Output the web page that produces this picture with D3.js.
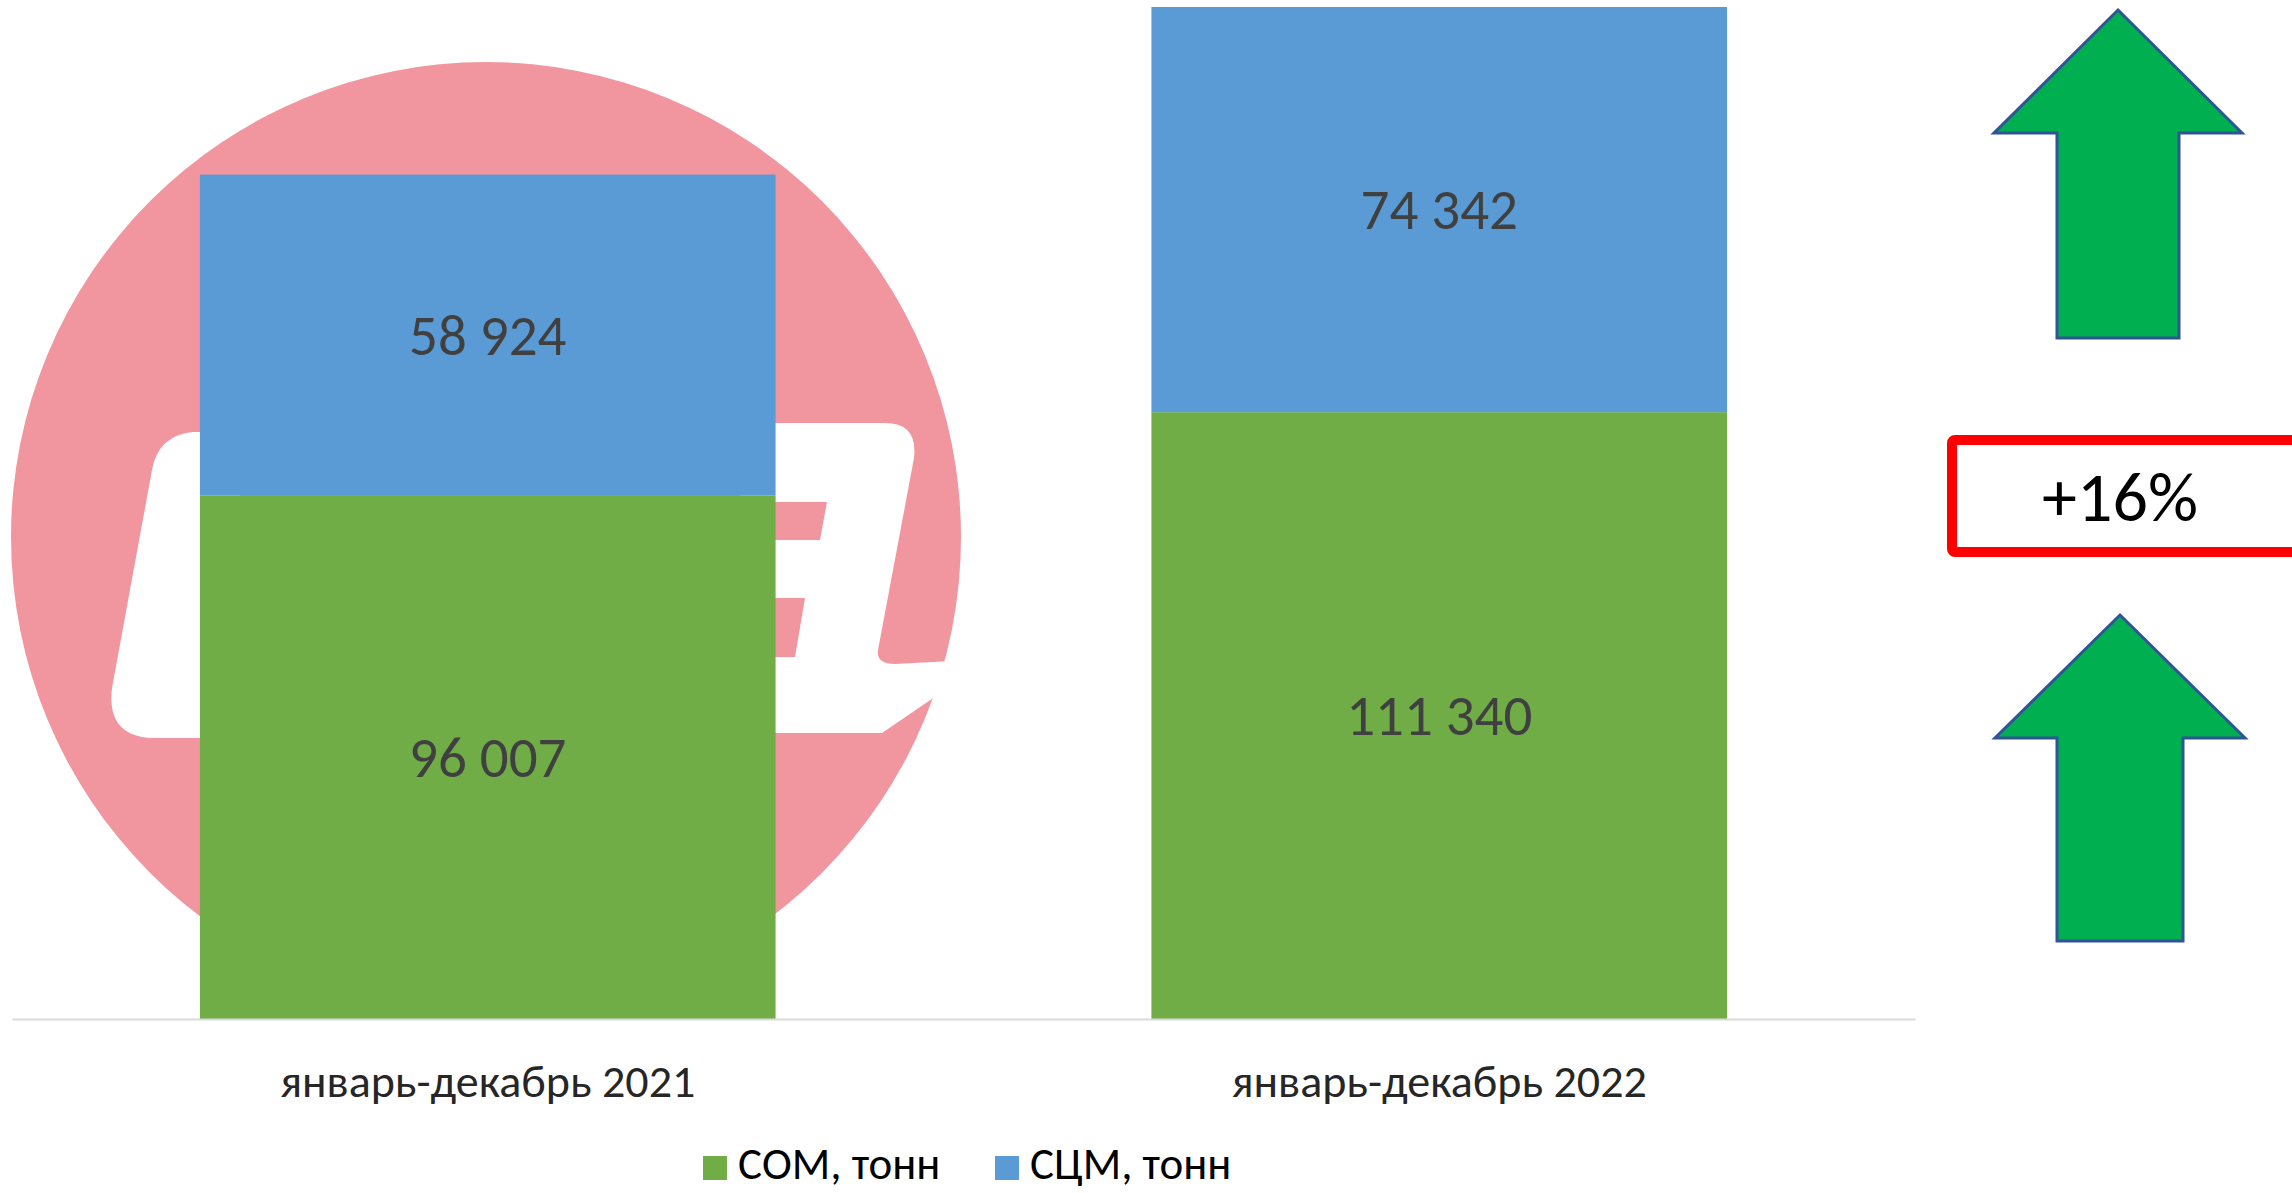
<!DOCTYPE html>
<html lang="ru">
    <head>
       <meta charset="utf-8">
       <script src="https://d3js.org/d3.v7.min.js"></script>
       <style>
           body { margin: 0; background: #ffffff; }
           text { font-family: "Carlito", "Lato", sans-serif; }
       </style>
    </head>
    <body>

        <script>
            var width  = 2292;
            var height = 1193;

            // chart data
            var categories  = ["январь-декабрь 2021", "январь-декабрь 2022"];
            var seriesNames = ["СОМ, тонн", "СЦМ, тонн"];
            var somValues   = [96007, 111340];
            var scmValues   = [58924, 74342];
            var changeLabel = "+16%";

            var colors = { som: "#70ad47", scm: "#5b9bd5" };

            var fmt = d3.formatLocale({ decimal: ",", thousands: " ", grouping: [3], currency: ["", ""] }).format(",d");

            var svg = d3.select("body")
                        .append("svg")
                        .attr("id", "canvas")
                        .attr("width", width)
                        .attr("height", height);

            // plot area
            var plotLeft = 12, plotRight = 1915, baseY = 1019;

            var x = d3.scaleBand()
                      .domain(categories)
                      .range([plotLeft, plotRight])
                      .paddingInner(0.395)
                      .paddingOuter(0.1975);

            var y = d3.scaleLinear()
                      .domain([0, 200000])
                      .range([baseY, baseY - 200000 * 1012 / 185682]);

            // watermark logo behind the first bar
            var logo = svg.append("g").attr("class", "logo");
            logo.append("circle")
                .attr("cx", 486).attr("cy", 537).attr("r", 475)
                .style("fill", "#f1969f");
            logo.append("path")
                .attr("d", "M 240 432 L 192 432 Q 158 436 152 470 L 112 688 Q 106 738 156 738 L 240 738 Z")
                .style("fill", "#ffffff");
            logo.append("path")
                .attr("d", "M 740 423 L 885 423 Q 918 423 914 458 L 878 650 Q 876 664 895 664 L 970 660 L 970 690 L 945 690 L 882 733 L 740 733 Z")
                .style("fill", "#ffffff");
            logo.append("path")
                .attr("d", "M 740 502 L 827 502 L 820 540 L 740 540 Z M 740 598 L 805 598 L 795 657 L 740 657 Z")
                .style("fill", "#f1969f");

            // stacked bars
            var stackData = categories.map(function(c, i) {
                return { cat: c, som: somValues[i], scm: scmValues[i] };
            });
            var stack = d3.stack().keys(["som", "scm"])(stackData);

            var layers = svg.selectAll("g.layer")
                            .data(stack)
                            .enter().append("g")
                            .attr("class", "layer")
                            .style("fill", function(d) { return colors[d.key]; });

            layers.selectAll("rect")
                  .data(function(d) { return d; })
                  .enter().append("rect")
                  .attr("x", function(d) { return x(d.data.cat); })
                  .attr("y", function(d) { return y(d[1]); })
                  .attr("width", x.bandwidth())
                  .attr("height", function(d) { return y(d[0]) - y(d[1]); });

            // value labels
            layers.selectAll("text")
                  .data(function(d) { return d; })
                  .enter().append("text")
                  .attr("x", function(d) { return x(d.data.cat) + x.bandwidth() / 2; })
                  .attr("y", function(d) { return (y(d[0]) + y(d[1])) / 2; })
                  .attr("text-anchor", "middle")
                  .attr("dominant-baseline", "central")
                  .style("font-size", "57px")
                  .style("fill", "#404040")
                  .text(function(d) { return fmt(d[1] - d[0]); });

            // category axis
            var xAxis = svg.append("g")
                           .attr("transform", "translate(0," + baseY + ")")
                           .call(d3.axisBottom(x).tickSize(0).tickPadding(45));
            xAxis.select(".domain").attr("stroke", "#d9d9d9").attr("stroke-width", 2);
            xAxis.selectAll("text")
                 .style("font-family", "Carlito, Lato, sans-serif")
                 .style("font-size", "46px")
                 .style("fill", "#262626");

            // legend
            var legendItems = [
                { name: seriesNames[0], color: colors.som, x: 703 },
                { name: seriesNames[1], color: colors.scm, x: 995 }
            ];
            var legend = svg.selectAll("g.legend")
                            .data(legendItems)
                            .enter().append("g")
                            .attr("class", "legend")
                            .attr("transform", function(d) { return "translate(" + d.x + ",1156)"; });
            legend.append("rect")
                  .attr("width", 24).attr("height", 24)
                  .style("fill", function(d) { return d.color; });
            legend.append("text")
                  .attr("x", 35).attr("y", 23)
                  .style("font-size", "45px")
                  .style("fill", "#000000")
                  .text(function(d) { return d.name; });

            // growth arrows
            function upArrow(cx, tipY, headY, bottomY, headHalf, shaftHalf) {
                return "M " + cx + " " + tipY +
                       " L " + (cx + headHalf) + " " + headY +
                       " L " + (cx + shaftHalf) + " " + headY +
                       " L " + (cx + shaftHalf) + " " + bottomY +
                       " L " + (cx - shaftHalf) + " " + bottomY +
                       " L " + (cx - shaftHalf) + " " + headY +
                       " L " + (cx - headHalf) + " " + headY + " Z";
            }
            svg.append("path")
               .attr("d", upArrow(2118, 10, 133, 338, 124, 61))
               .style("fill", "#00b050").style("stroke", "#2f5597").style("stroke-width", 3);
            svg.append("path")
               .attr("d", upArrow(2120, 615, 738, 941, 125, 63))
               .style("fill", "#00b050").style("stroke", "#2f5597").style("stroke-width", 3);

            // percentage box
            svg.append("rect")
               .attr("x", 1952).attr("y", 440)
               .attr("width", 360).attr("height", 112)
               .attr("rx", 3)
               .style("fill", "#ffffff").style("stroke", "#ff0000").style("stroke-width", 10);
            svg.append("text")
               .attr("x", 2120).attr("y", 497)
               .attr("text-anchor", "middle")
               .attr("dominant-baseline", "central")
               .style("font-size", "70px")
               .style("fill", "#000000")
               .text(changeLabel);
        </script>

    </body>
</html>
